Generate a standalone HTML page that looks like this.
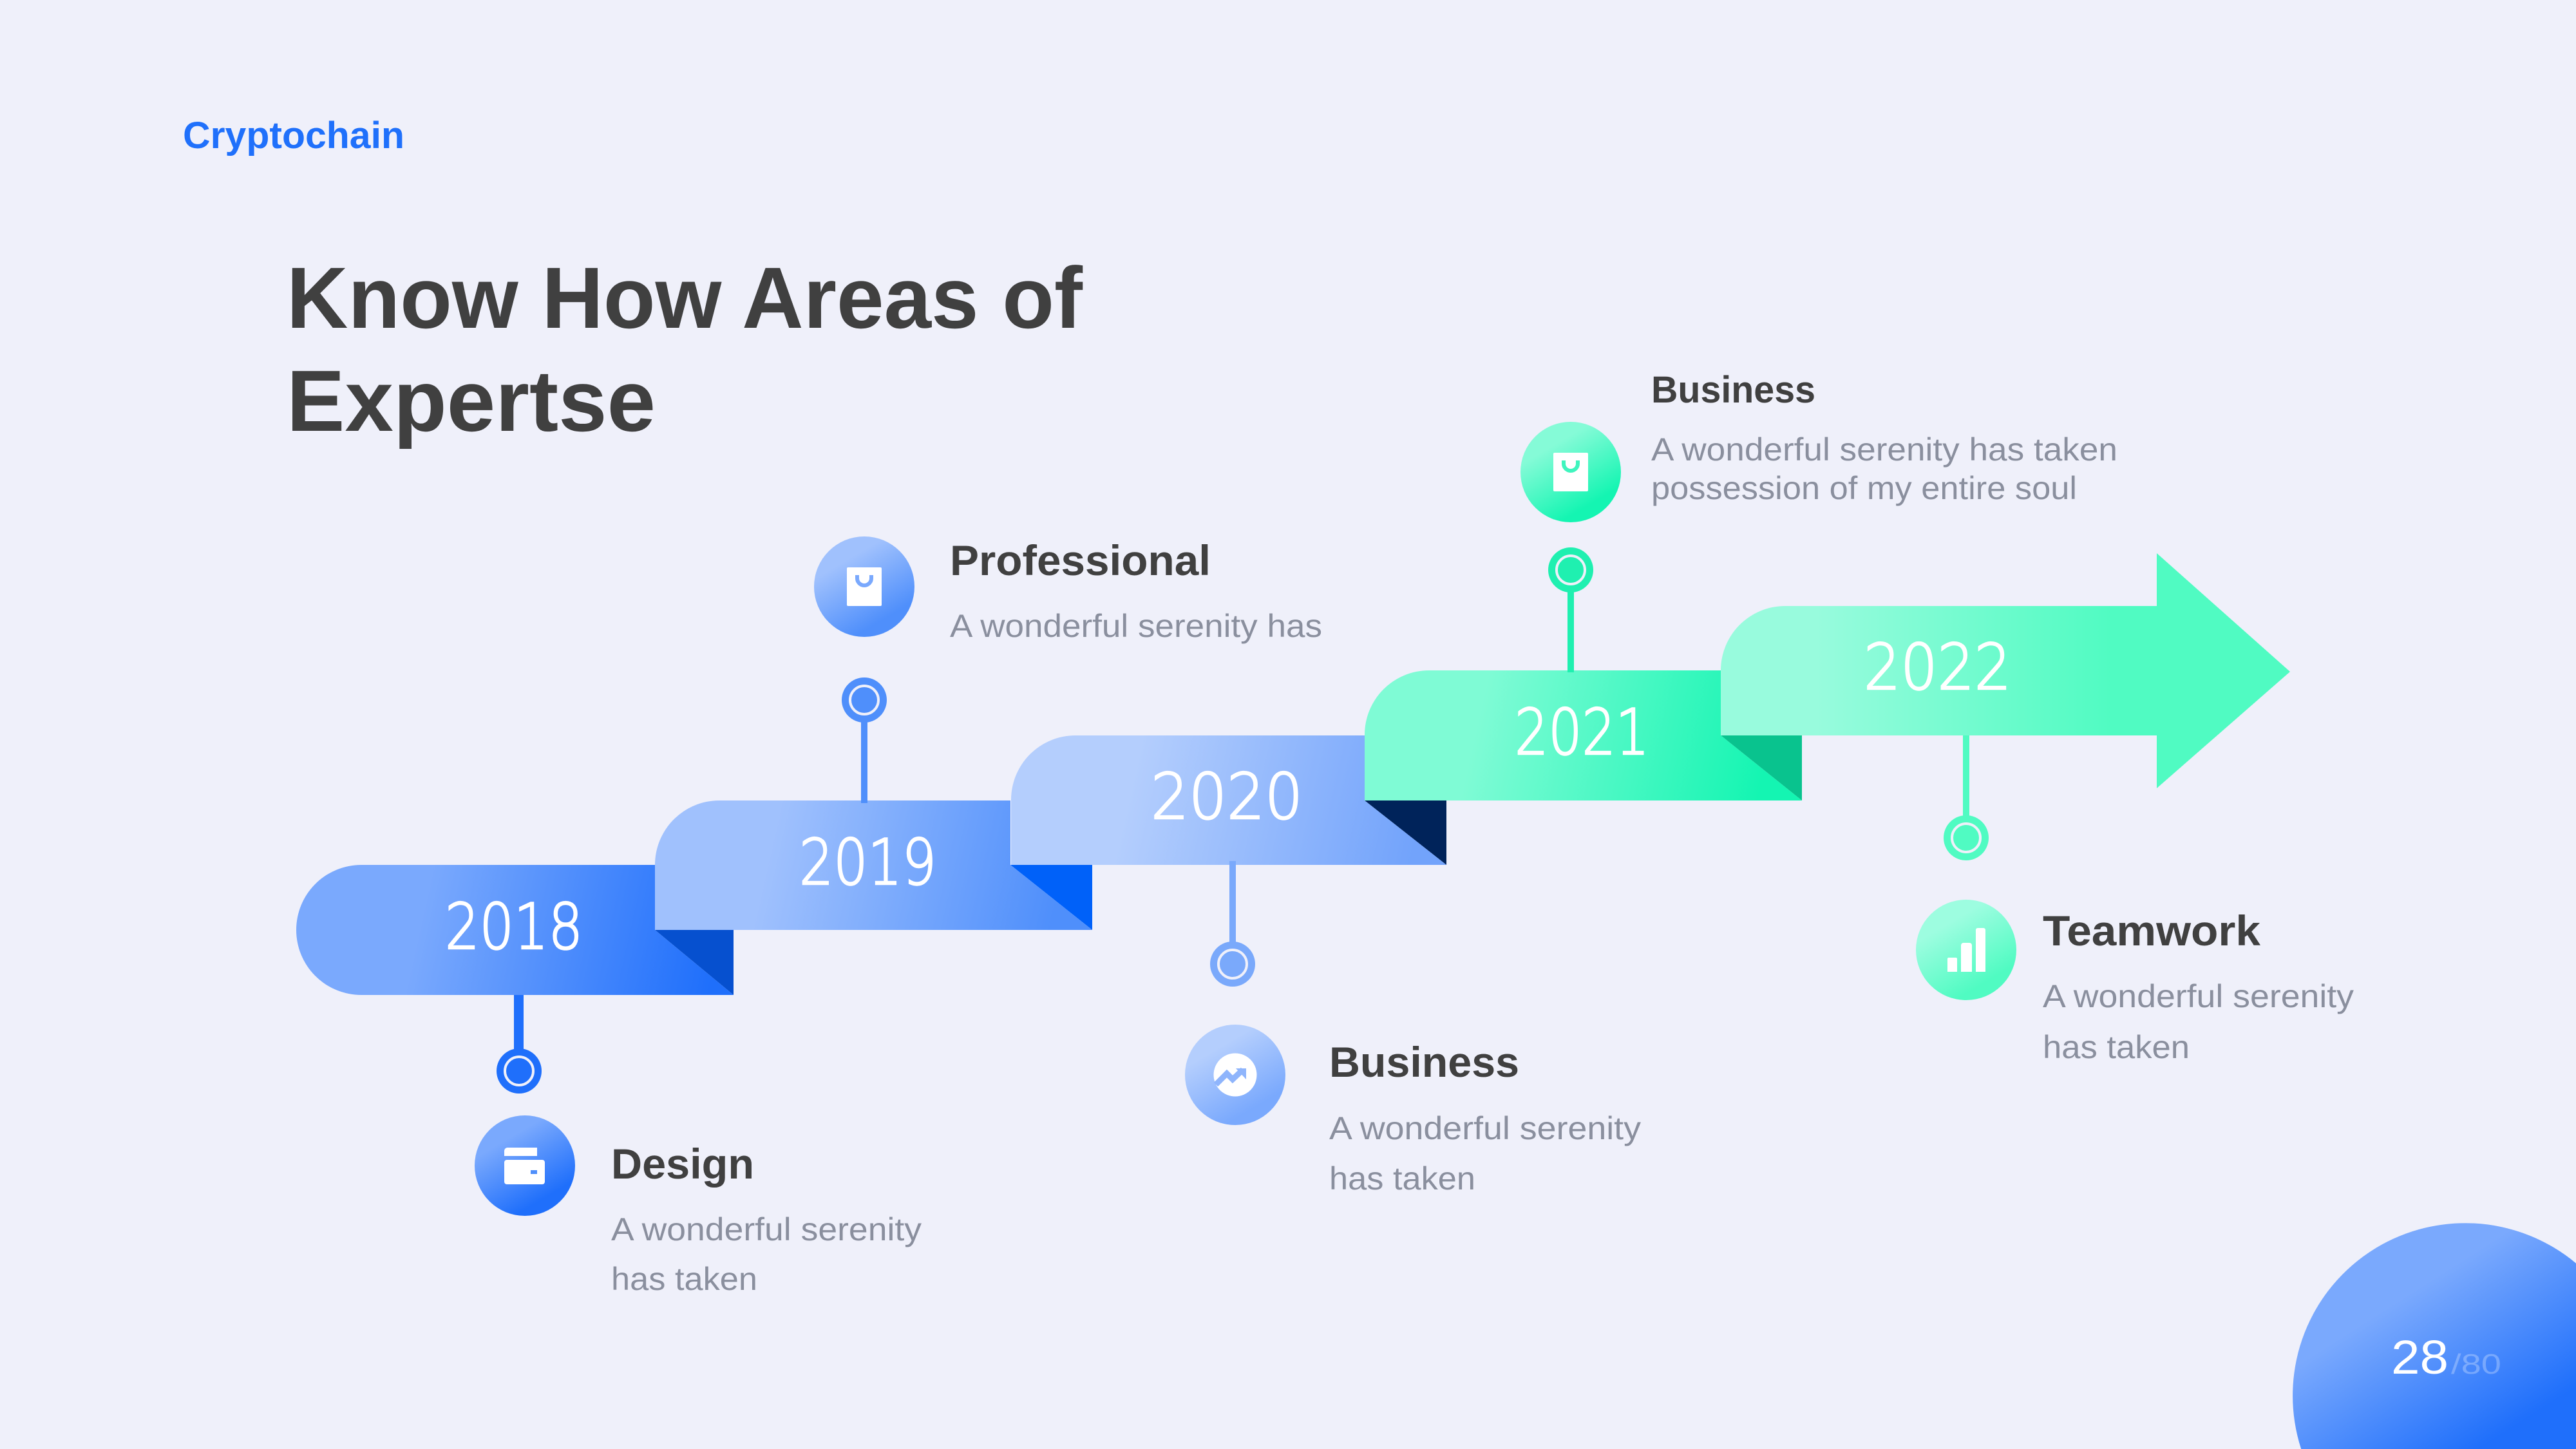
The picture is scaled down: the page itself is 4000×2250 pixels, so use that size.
<!DOCTYPE html>
<html>
<head>
<meta charset="utf-8">
<style>
html,body{margin:0;padding:0;background:#eff0fa;width:4000px;height:2250px;overflow:hidden;}
svg{display:block;}
.h{font-family:"Liberation Sans",sans-serif;font-weight:700;fill:#404040;}
.d{font-family:"Liberation Sans",sans-serif;fill:#8a8f9e;font-size:50px;}
.y{font-family:"DejaVu Sans",sans-serif;font-weight:200;fill:#fff;stroke:#fff;stroke-width:2.5px;font-size:98px;}
</style>
</head>
<body>
<svg xmlns="http://www.w3.org/2000/svg" width="4000" height="2250" viewBox="0 0 4000 2250">
<defs>
<linearGradient id="r18" gradientUnits="userSpaceOnUse" x1="660" y1="1400" x2="1110" y2="1500"><stop offset="0" stop-color="#7aa9fd"/><stop offset="1" stop-color="#1f6ffb"/></linearGradient>
<linearGradient id="r19" gradientUnits="userSpaceOnUse" x1="1200" y1="1300" x2="1640" y2="1400"><stop offset="0" stop-color="#a0c1fd"/><stop offset="1" stop-color="#4f8ffb"/></linearGradient>
<linearGradient id="r20" gradientUnits="userSpaceOnUse" x1="1760" y1="1200" x2="2200" y2="1300"><stop offset="0" stop-color="#b4cefd"/><stop offset="1" stop-color="#72a3fb"/></linearGradient>
<linearGradient id="r21" gradientUnits="userSpaceOnUse" x1="2300" y1="1100" x2="2740" y2="1200"><stop offset="0" stop-color="#7ffbd5"/><stop offset="1" stop-color="#14f5b2"/></linearGradient>
<linearGradient id="r22" gradientUnits="userSpaceOnUse" x1="2820" y1="1040" x2="3280" y2="1040"><stop offset="0" stop-color="#98fbdd"/><stop offset="1" stop-color="#50fbc2"/></linearGradient>
<linearGradient id="cA" x1="0.3" y1="0.25" x2="0.65" y2="0.85"><stop offset="0" stop-color="#7aa9fd"/><stop offset="1" stop-color="#1f6ffb"/></linearGradient>
<linearGradient id="cB" x1="0.3" y1="0.25" x2="0.65" y2="0.85"><stop offset="0" stop-color="#a0c1fd"/><stop offset="1" stop-color="#4f8ffb"/></linearGradient>
<linearGradient id="cC" x1="0.3" y1="0.25" x2="0.65" y2="0.85"><stop offset="0" stop-color="#b4cefd"/><stop offset="1" stop-color="#7aa9fd"/></linearGradient>
<linearGradient id="cD" x1="0.3" y1="0.25" x2="0.65" y2="0.85"><stop offset="0" stop-color="#85fbd7"/><stop offset="1" stop-color="#14f5b2"/></linearGradient>
<linearGradient id="cE" x1="0.3" y1="0.25" x2="0.65" y2="0.85"><stop offset="0" stop-color="#9dfde0"/><stop offset="1" stop-color="#50fbc2"/></linearGradient>
<linearGradient id="pg" gradientUnits="userSpaceOnUse" x1="3740" y1="2010" x2="3880" y2="2230"><stop offset="0" stop-color="#7aa9fd"/><stop offset="1" stop-color="#1f6ffb"/></linearGradient>
</defs>

<rect width="4000" height="2250" fill="#eff0fa"/>

<text x="284" y="230" class="h" style="fill:#1f70fb" font-size="58" textLength="344" lengthAdjust="spacingAndGlyphs">Cryptochain</text>
<text x="445" y="509" class="h" font-size="135" textLength="1236" lengthAdjust="spacingAndGlyphs">Know How Areas of</text>
<text x="445" y="669" class="h" font-size="135" textLength="573" lengthAdjust="spacingAndGlyphs">Expertse</text>

<!-- connector lines under ribbons -->
<rect x="798" y="1540" width="15" height="95" fill="#1f6ffb"/>
<circle cx="806" cy="1663" r="35" fill="#1f6ffb"/><circle cx="806" cy="1663" r="22" fill="#1f6ffb" stroke="#eff0fa" stroke-width="4"/>

<rect x="3048" y="1138" width="10" height="140" fill="#50fbc2"/>
<circle cx="3053" cy="1301" r="35" fill="#50fbc2"/><circle cx="3053" cy="1301" r="22" fill="#50fbc2" stroke="#eff0fa" stroke-width="4"/>

<!-- ribbons -->
<polygon points="1017,1444 1139,1444 1139,1545" fill="#0650cf"/>
<path d="M561 1343H1017V1444L1139 1545H561A101 101 0 0 1 561 1343Z" fill="url(#r18)"/>

<polygon points="1569,1343 1696,1343 1696,1444" fill="#0061f9"/>
<path d="M1117 1243H1569V1343L1696 1444H1017V1343A100 100 0 0 1 1117 1243Z" fill="url(#r19)"/>

<polygon points="2119,1243 2246,1243 2246,1343" fill="#00235a"/>
<path d="M1670 1142H2119V1243L2246 1343H1570V1242A100 100 0 0 1 1670 1142Z" fill="url(#r20)"/>

<polygon points="2672,1142 2798,1142 2798,1243" fill="#09c38e"/>
<path d="M2219 1041H2672V1142L2798 1243H2119V1141A100 100 0 0 1 2219 1041Z" fill="url(#r21)"/>

<path d="M2772 941H3349V859L3556 1043L3349 1224V1142H2672V1041A100 100 0 0 1 2772 941Z" fill="url(#r22)"/>

<text x="691" y="1473" class="y" textLength="214" lengthAdjust="spacingAndGlyphs">2018</text>
<text x="1241" y="1373" class="y" textLength="213" lengthAdjust="spacingAndGlyphs">2019</text>
<text x="1787" y="1271" class="y" textLength="236" lengthAdjust="spacingAndGlyphs">2020</text>
<text x="2352" y="1171" class="y" textLength="209" lengthAdjust="spacingAndGlyphs">2021</text>
<text x="2894" y="1070" class="y" textLength="229" lengthAdjust="spacingAndGlyphs">2022</text>

<!-- connectors over ribbons -->
<rect x="1337" y="1100" width="10" height="147" fill="#4f8ffb"/>
<circle cx="1342" cy="1087" r="35" fill="#4f8ffb"/><circle cx="1342" cy="1087" r="22" fill="#4f8ffb" stroke="#eff0fa" stroke-width="4"/>

<rect x="1909" y="1337" width="10" height="140" fill="#7aa9fb"/>
<circle cx="1914" cy="1497" r="35" fill="#7aa9fb"/><circle cx="1914" cy="1497" r="22" fill="#7aa9fb" stroke="#eff0fa" stroke-width="4"/>

<rect x="2434" y="900" width="10" height="144" fill="#1ff0b0"/>
<circle cx="2439" cy="885" r="35" fill="#1ff0b0"/><circle cx="2439" cy="885" r="22" fill="#1ff0b0" stroke="#eff0fa" stroke-width="4"/>

<!-- Design -->
<circle cx="815" cy="1810" r="78" fill="url(#cA)"/>
<path d="M783 1787a5 5 0 0 1 5-5h46v13h-51Z" fill="#fff"/>
<rect x="783" y="1801" width="63" height="38" rx="4" fill="#fff"/>
<rect x="824" y="1817" width="10" height="6" fill="#4f8ffb"/>
<text x="949" y="1830" class="h" font-size="66" textLength="222" lengthAdjust="spacingAndGlyphs">Design</text>
<text x="949" y="1926" class="d" textLength="482" lengthAdjust="spacingAndGlyphs">A wonderful serenity</text>
<text x="949" y="2003" class="d" textLength="227" lengthAdjust="spacingAndGlyphs">has taken</text>

<!-- Professional -->
<circle cx="1342" cy="911" r="78" fill="url(#cB)"/>
<rect x="1315" y="881" width="54" height="60" rx="2" fill="#fff"/>
<path d="M1331 893v5a11 11 0 0 0 22 0v-5" fill="none" stroke="#7aa9fd" stroke-width="6"/>
<text x="1475" y="893" class="h" font-size="66" textLength="405" lengthAdjust="spacingAndGlyphs">Professional</text>
<text x="1475" y="989" class="d" textLength="578" lengthAdjust="spacingAndGlyphs">A wonderful serenity has</text>

<!-- Business lower -->
<circle cx="1918" cy="1669" r="78" fill="url(#cC)"/>
<circle cx="1918" cy="1669" r="33.500" fill="#fff"/>
<path d="M1888 1684L1905 1667L1914 1676L1930 1661" fill="none" stroke="#8fb5fc" stroke-width="9"/>
<polygon points="1919,1659 1935,1659 1935,1676" fill="#8fb5fc"/>
<text x="2064" y="1672" class="h" font-size="66" textLength="295" lengthAdjust="spacingAndGlyphs">Business</text>
<text x="2064" y="1769" class="d" textLength="484" lengthAdjust="spacingAndGlyphs">A wonderful serenity</text>
<text x="2064" y="1847" class="d" textLength="227" lengthAdjust="spacingAndGlyphs">has taken</text>

<!-- Business upper -->
<circle cx="2439" cy="733" r="78" fill="url(#cD)"/>
<rect x="2412" y="703" width="54" height="60" rx="2" fill="#fff"/>
<path d="M2428 715v5a11 11 0 0 0 22 0v-5" fill="none" stroke="#3ff5be" stroke-width="6"/>
<text x="2564" y="625" class="h" font-size="58" textLength="255" lengthAdjust="spacingAndGlyphs">Business</text>
<text x="2564" y="715" class="d" textLength="724" lengthAdjust="spacingAndGlyphs">A wonderful serenity has taken</text>
<text x="2564" y="775" class="d" textLength="661" lengthAdjust="spacingAndGlyphs">possession of my entire soul</text>

<!-- Teamwork -->
<circle cx="3053" cy="1475" r="78" fill="url(#cE)"/>
<path d="M3024 1509V1489a2 2 0 0 1 2-2h11a2 2 0 0 1 2 2V1509Z" fill="#fff"/>
<path d="M3045 1509V1468a4 4 0 0 1 4-4h9a4 4 0 0 1 4 4V1509Z" fill="#fff"/>
<path d="M3068 1509V1444a3 3 0 0 1 3-3h9a3 3 0 0 1 3 3V1509Z" fill="#fff"/>
<text x="3172" y="1468" class="h" font-size="66" textLength="338" lengthAdjust="spacingAndGlyphs">Teamwork</text>
<text x="3172" y="1564" class="d" textLength="483" lengthAdjust="spacingAndGlyphs">A wonderful serenity</text>
<text x="3172" y="1643" class="d" textLength="228" lengthAdjust="spacingAndGlyphs">has taken</text>

<!-- page badge, clipped to the frame -->
<path d="M3573.2 2250A268 268 0 0 1 4000 1961.600V2250Z" fill="url(#pg)"/>
<text x="3713" y="2133" font-family="Liberation Sans, sans-serif" font-size="74" fill="#fff" textLength="89" lengthAdjust="spacingAndGlyphs">28</text>
<text x="3806" y="2133" font-family="Liberation Sans, sans-serif" font-size="44" fill="#fff" fill-opacity="0.28" textLength="78" lengthAdjust="spacingAndGlyphs">/80</text>
</svg>
</body>
</html>
